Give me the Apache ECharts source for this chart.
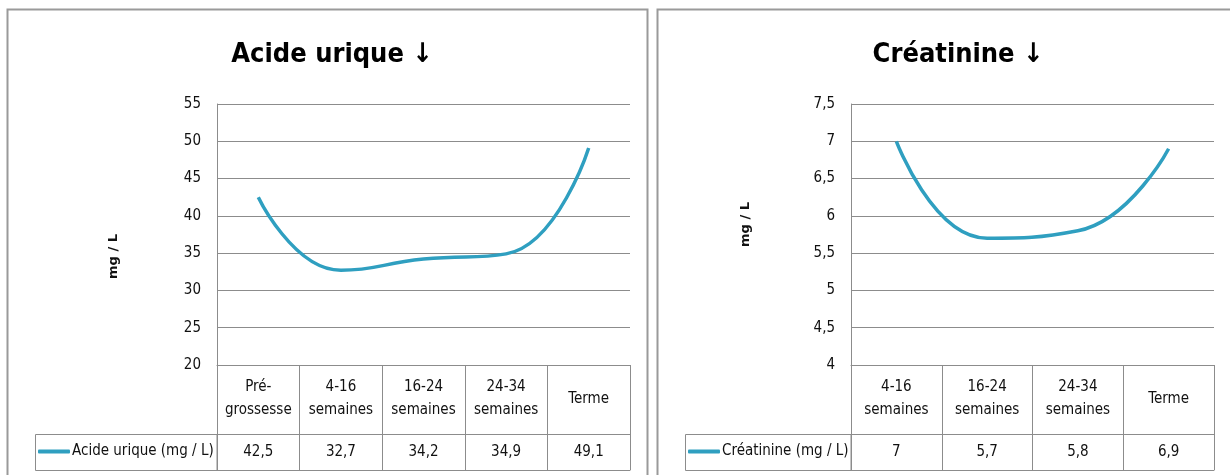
<!DOCTYPE html>
<html>
<head>
<meta charset="utf-8">
<script src="https://cdn.jsdelivr.net/npm/echarts@6/dist/echarts.min.js"></script>
<style>
  html, body { margin: 0; padding: 0; background: #fff; }
  #chart { width: 1230px; height: 475px; }
</style>
</head>
<body>
<div id="chart"></div>
<script>
// Uric acid during pregnancy (mg / L)
const uricCategories = ['Pré-\ngrossesse', '4-16\nsemaines', '16-24\nsemaines', '24-34\nsemaines', 'Terme'];
const uricValues = [42.5, 32.7, 34.2, 34.9, 49.1];
const uricScale = [20, 55, 5];      // min, max, step
const uricName = 'Acide urique (mg / L)';

// Creatinine during pregnancy (mg / L)
const creatCategories = ['4-16\nsemaines', '16-24\nsemaines', '24-34\nsemaines', 'Terme'];
const creatValues = [7, 5.7, 5.8, 6.9];
const creatScale = [4, 7.5, 0.5];
const creatName = 'Créatinine (mg / L)';

const FONT = "'Liberation Sans Narrow', 'DejaVu Sans Condensed', 'Noto Sans', sans-serif";
const LINE = '#2f9fc0';
const RULE = '#8c8c8c';
const comma = v => String(v).replace('.', ',');

const chart = echarts.init(document.getElementById('chart'), null, { renderer: 'canvas' });

function panel(i, cfg) {
  const grid = { left: cfg.left, top: 104, width: cfg.width, height: 261 };
  const xAxes = [
    { // category header row of the table
      type: 'category', gridIndex: i, data: cfg.categories, position: 'bottom',
      axisLine: { show: true, lineStyle: { color: RULE, width: 1 } },
      axisTick: { show: true, length: 69, lineStyle: { color: RULE } },
      axisLabel: { interval: 0, margin: 34, verticalAlign: 'middle', lineHeight: 23,
                   fontSize: 15, color: '#111', fontFamily: FONT },
      splitLine: { show: false }
    },
    { // value row of the table
      type: 'category', gridIndex: i, data: cfg.categories, position: 'bottom', offset: 69,
      axisLine: { show: true, lineStyle: { color: RULE, width: 1 } },
      axisTick: { show: true, length: 36, lineStyle: { color: RULE } },
      axisLabel: { interval: 0, margin: 18, verticalAlign: 'middle', fontSize: 15,
                   color: '#111', fontFamily: FONT,
                   formatter: (v, idx) => comma(cfg.values[idx]) },
      splitLine: { show: false }
    },
    { // closing rule under the table
      type: 'category', gridIndex: i, data: cfg.categories, position: 'bottom', offset: 105,
      axisLine: { show: true, lineStyle: { color: RULE, width: 1 } },
      axisTick: { show: false }, axisLabel: { show: false }, splitLine: { show: false }
    }
  ];
  const yAxis = {
    type: 'value', gridIndex: i, min: cfg.scale[0], max: cfg.scale[1], interval: cfg.scale[2],
    axisLine: { show: true, lineStyle: { color: RULE } },
    axisTick: { show: false },
    splitLine: { show: true, lineStyle: { color: RULE, width: 1 } },
    axisLabel: { margin: 16, fontSize: 15, color: '#111', fontFamily: FONT, formatter: comma },
    name: 'mg / L', nameLocation: 'middle', nameGap: cfg.nameGap,
    nameTextStyle: { fontSize: 13, fontWeight: 'bold', color: '#111', fontFamily: "'DejaVu Sans', sans-serif",
                     padding: cfg.namePad }
  };
  return { grid, xAxes, yAxis };
}

const left = panel(0, { left: 217, width: 413, categories: uricCategories, values: uricValues,
                        scale: uricScale, nameGap: 97, namePad: [0, 44, 0, 0] });
const right = panel(1, { left: 851, width: 363, categories: creatCategories, values: creatValues,
                         scale: creatScale, nameGap: 99, namePad: [0, 0, 0, 20] });

const frame = (x, y, w, h, lw, color) => ({
  type: 'rect', shape: { x, y, width: w, height: h }, silent: true,
  style: { fill: 'none', stroke: color, lineWidth: lw }
});

chart.setOption({
  backgroundColor: '#fff',
  animation: false,
  title: [
    { text: 'Acide urique ↓', left: 327, top: 36, textAlign: 'center',
      textStyle: { fontSize: 27, fontWeight: 'bold', color: '#000', fontFamily: FONT } },
    { text: 'Créatinine ↓', left: 953, top: 36, textAlign: 'center',
      textStyle: { fontSize: 27, fontWeight: 'bold', color: '#000', fontFamily: FONT } }
  ],
  legend: [
    { data: [uricName], left: 38, top: 444, padding: 0, icon: 'roundRect', itemWidth: 32, itemHeight: 4,
      textStyle: { fontSize: 15, color: '#111', fontFamily: FONT, padding: [0, 0, 0, -3] } },
    { data: [creatName], left: 688, top: 444, padding: 0, icon: 'roundRect', itemWidth: 32, itemHeight: 4,
      textStyle: { fontSize: 15, color: '#111', fontFamily: FONT, padding: [0, 0, 0, -3] } }
  ],
  grid: [left.grid, right.grid],
  xAxis: [...left.xAxes, ...right.xAxes],
  yAxis: [left.yAxis, right.yAxis],
  series: [
    { name: uricName, type: 'line', xAxisIndex: 0, yAxisIndex: 0, data: uricValues,
      smooth: 0.5, symbol: 'none', lineStyle: { color: LINE, width: 3.5 }, itemStyle: { color: LINE } },
    { name: creatName, type: 'line', xAxisIndex: 3, yAxisIndex: 1, data: creatValues,
      smooth: 0.5, symbol: 'none', lineStyle: { color: LINE, width: 3.5 }, itemStyle: { color: LINE } }
  ],
  graphic: [
    frame(7.5, 9.5, 640, 500, 2, '#9a9a9a'),
    frame(657.5, 9.5, 600, 500, 2, '#9a9a9a'),
    frame(35.5, 434.5, 181.5, 36, 1, RULE),
    frame(685.5, 434.5, 165.5, 36, 1, RULE)
  ]
});
</script>
</body>
</html>
